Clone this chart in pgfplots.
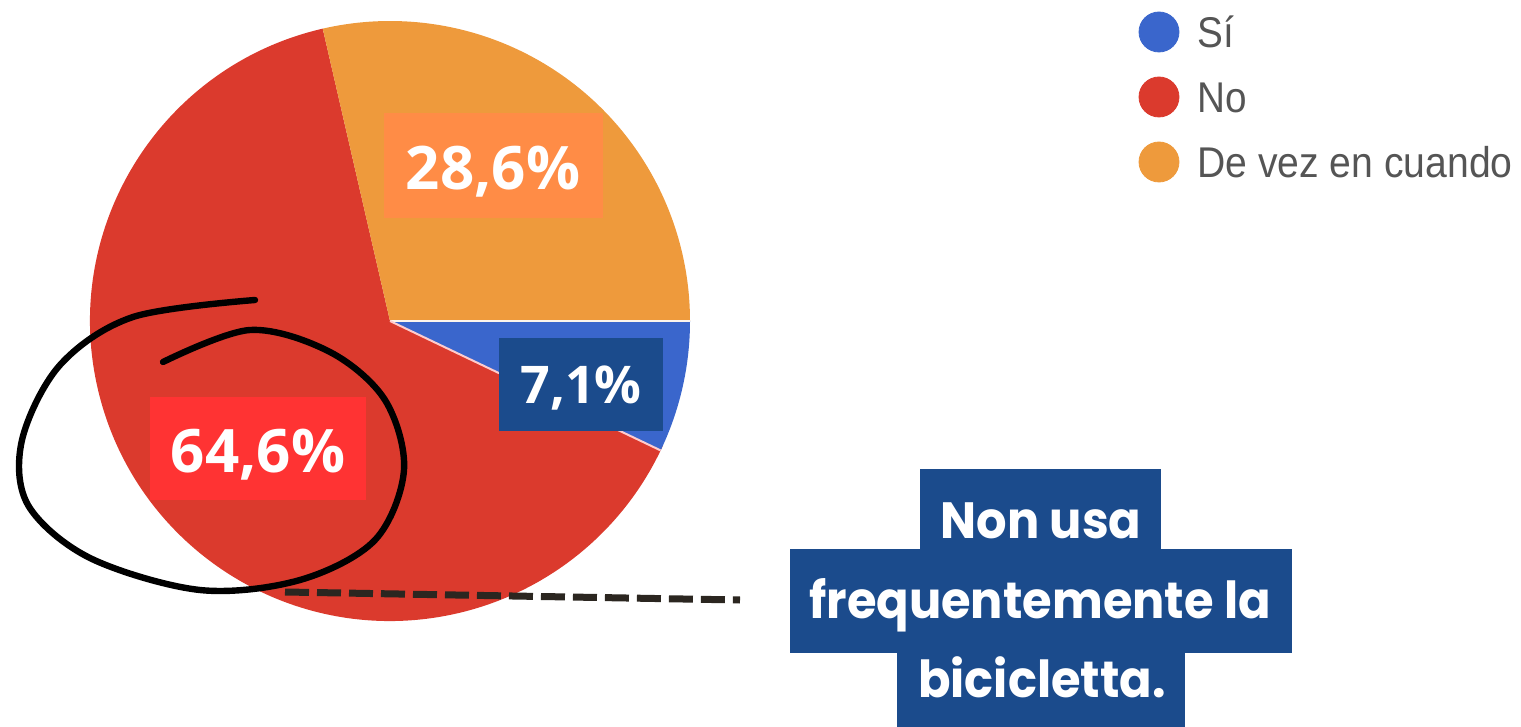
\documentclass[border=0pt]{standalone}
\usepackage{fontspec}
\usepackage{pgfplots}
\pgfplotsset{compat=1.18}
\setmainfont{Liberation Sans}
\newfontfamily\osans{Open Sans}
\newfontfamily\pop{Poppins}
\definecolor{cSi}{HTML}{3A66CC}
\definecolor{cNo}{HTML}{DB3A2D}
\definecolor{cDe}{HTML}{EE9A3C}
\definecolor{boxDe}{HTML}{FF8C46}
\definecolor{boxBlue}{HTML}{1B4B8C}
\definecolor{boxNo}{HTML}{FF3333}
\definecolor{legtxt}{HTML}{555555}
\definecolor{dashcol}{HTML}{2B2620}
\begin{document}
\begin{tikzpicture}
% shares (percent)
\def\pSi{7.1}
\def\pNo{64.6}
\def\pDe{28.6}
\pgfmathsetmacro\aSi{-\pSi*3.6}
\pgfmathsetmacro\aDe{\pDe*3.6}
\pgfmathsetmacro\aNo{\aDe+\pNo*3.6}
\begin{axis}[
  scale only axis, width=760.5pt, height=363.5pt,
  xmin=0, xmax=1521, ymin=0, ymax=727, y dir=reverse,
  axis lines=none, clip=false, ticks=none]
\path (axis cs:0,0) rectangle (axis cs:1521,727);
% pie slices, radius 300 units = 150pt
\fill[cNo] (axis cs:390,321) -- ++(\aDe:150pt) arc[start angle=\aDe, end angle=\aNo, radius=150pt] -- cycle;
\fill[cDe] (axis cs:390,321) -- ++(0:150pt) arc[start angle=0, end angle=\aDe, radius=150pt] -- cycle;
\fill[cSi] (axis cs:390,321) -- ++(\aSi:150pt) arc[start angle=\aSi, end angle=0, radius=150pt] -- cycle;
\draw[white!90!cDe, line width=1.2pt] (axis cs:390,321) -- ++(0:150pt);
\draw[pink!80!white, line width=1pt] (axis cs:390,321) -- ++(\aSi:150pt);
% legend
\addplot[only marks, mark=*, mark size=10pt, cSi, mark options={draw=cSi,fill=cSi}] coordinates {(1159,32)};
\addplot[only marks, mark=*, mark size=10pt, cNo, mark options={draw=cNo,fill=cNo}] coordinates {(1159,97)};
\addplot[only marks, mark=*, mark size=10pt, cDe, mark options={draw=cDe,fill=cDe}] coordinates {(1159,162)};
\node[anchor=base west, inner sep=0pt, text=legtxt, font=\fontsize{21.5}{24}\selectfont, xscale=0.9] at (axis cs:1197,48) {Sí};
\node[anchor=base west, inner sep=0pt, text=legtxt, font=\fontsize{21.5}{24}\selectfont, xscale=0.9] at (axis cs:1197,113) {No};
\node[anchor=base west, inner sep=0pt, text=legtxt, font=\fontsize{21.5}{24}\selectfont, xscale=0.91] at (axis cs:1197,178) {De vez en cuando};
% value labels
\fill[boxDe] (axis cs:384,113) rectangle (axis cs:603,218);
\node[anchor=base, inner sep=0pt, text=white, font=\osans\bfseries\fontsize{30}{34}\selectfont] at (axis cs:493,190) {28,6\%};
\fill[boxBlue] (axis cs:499,338) rectangle (axis cs:663,431);
\node[anchor=base, inner sep=0pt, text=white, font=\osans\bfseries\fontsize{26}{30}\selectfont] at (axis cs:581,403) {7,1\%};
\fill[boxNo] (axis cs:150,397) rectangle (axis cs:366,500);
\node[anchor=base, inner sep=0pt, text=white, font=\osans\bfseries\fontsize{30}{34}\selectfont] at (axis cs:258,472) {64,6\%};
% hand drawn circle
\addplot[black, line width=3.2pt, smooth, line cap=round, tension=0.55] coordinates {
 (255,300) (133,317) (60,365) (22,440) (28,505) (90,558) (200,590) (300,580)
 (375,540) (404,470) (385,400) (330,352) (250,330) (163,362)};
% dashed leader
\addplot[dashcol, line width=3.5pt, dash pattern=on 12pt off 4pt] coordinates {(285,592) (740,600)};
% bottom callout
\fill[boxBlue] (axis cs:920,469) rectangle (axis cs:1161,550);
\fill[boxBlue] (axis cs:790,549) rectangle (axis cs:1292,653);
\fill[boxBlue] (axis cs:897,652) rectangle (axis cs:1185,727);
\node[anchor=base, inner sep=0pt, text=white, font=\pop\bfseries\fontsize{25.5}{30}\selectfont, xscale=0.94] at (axis cs:1041,538) {Non usa};
\node[anchor=base, inner sep=0pt, text=white, font=\pop\bfseries\fontsize{25.5}{30}\selectfont, xscale=0.94] at (axis cs:1040,618) {frequentemente la};
\node[anchor=base, inner sep=0pt, text=white, font=\pop\bfseries\fontsize{25.5}{30}\selectfont, xscale=0.94] at (axis cs:1042,697) {bicicletta.};
\end{axis}
\end{tikzpicture}
\end{document}
